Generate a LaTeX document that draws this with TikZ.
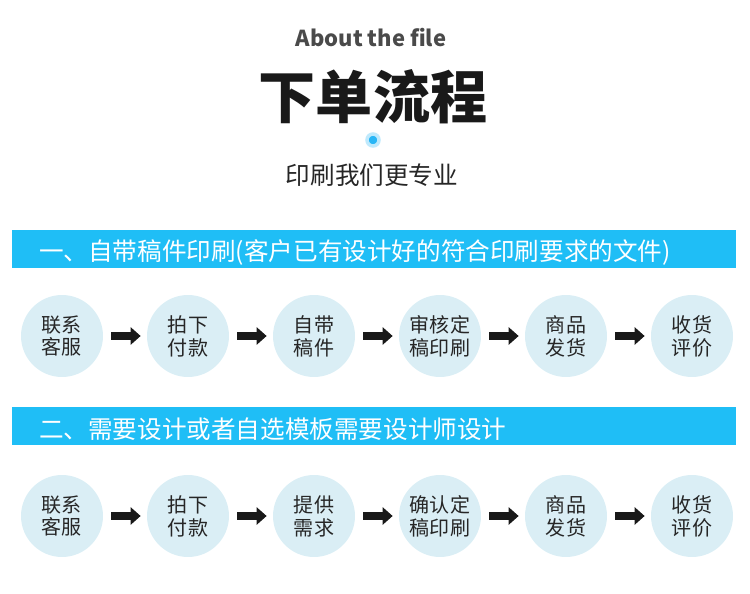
\documentclass[tikz,border=0pt]{standalone}
\usepackage{fontspec}
\setmainfont{Noto Sans CJK SC}
\usetikzlibrary{arrows.meta}
\definecolor{barblue}{HTML}{1FBEF6}
\definecolor{stepfill}{HTML}{DAEEF5}
\definecolor{dotblue}{HTML}{29B6F6}
\definecolor{inkgray}{HTML}{4A4A4A}
\begin{document}
\begin{tikzpicture}[x=0.02cm,y=-0.02cm,
  every node/.style={font=\fontsize{11.4}{13}\selectfont},
  stepnode/.style={circle,fill=stepfill,minimum size=1.64cm,inner sep=0pt,align=center,text=black!85},
  flow/.style={-{Triangle[length=0.2cm,width=0.34cm]},line width=0.16cm,black!90,shorten <=0.16cm,shorten >=0.12cm},
  bartext/.style={anchor=west,text=white,font=\fontsize{14}{16}\selectfont}]
\useasboundingbox (0,0) rectangle (750,594);
% heading
\node[text=inkgray,font=\bfseries\fontsize{12.5}{14}\selectfont] (about) at (371,38) {About the file};
\node[text=black!90,font=\bfseries\fontsize{32.5}{36}\selectfont] (title) at (373,97) {下单流程};
\node[circle,fill=dotblue,draw=dotblue!30,line width=0.07cm,minimum size=0.24cm,inner sep=0pt] (dot) at (373,140) {};
\node[text=black!85,font=\fontsize{14}{16}\selectfont] (slogan) at (372,175) {印刷我们更专业};
% first way
\fill[barblue] (12,230) rectangle (736,268);
\node[bartext] (bar1) at (33,252) {一、自带稿件印刷(客户已有设计好的符合印刷要求的文件)};
\node[stepnode] (a1) at (62,336) {联系\\客服};
\node[stepnode] (a2) at (188,336) {拍下\\付款};
\node[stepnode] (a3) at (314,336) {自带\\稿件};
\node[stepnode] (a4) at (440,336) {审核定\\稿印刷};
\node[stepnode] (a5) at (566,336) {商品\\发货};
\node[stepnode] (a6) at (692,336) {收货\\评价};
\draw[flow] (a1) -- (a2);
\draw[flow] (a2) -- (a3);
\draw[flow] (a3) -- (a4);
\draw[flow] (a4) -- (a5);
\draw[flow] (a5) -- (a6);
% second way
\fill[barblue] (12,407) rectangle (736,445);
\node[bartext] (bar2) at (33,429) {二、需要设计或者自选模板需要设计师设计};
\node[stepnode] (b1) at (62,516) {联系\\客服};
\node[stepnode] (b2) at (188,516) {拍下\\付款};
\node[stepnode] (b3) at (314,516) {提供\\需求};
\node[stepnode] (b4) at (440,516) {确认定\\稿印刷};
\node[stepnode] (b5) at (566,516) {商品\\发货};
\node[stepnode] (b6) at (692,516) {收货\\评价};
\draw[flow] (b1) -- (b2);
\draw[flow] (b2) -- (b3);
\draw[flow] (b3) -- (b4);
\draw[flow] (b4) -- (b5);
\draw[flow] (b5) -- (b6);
\end{tikzpicture}
\end{document}
